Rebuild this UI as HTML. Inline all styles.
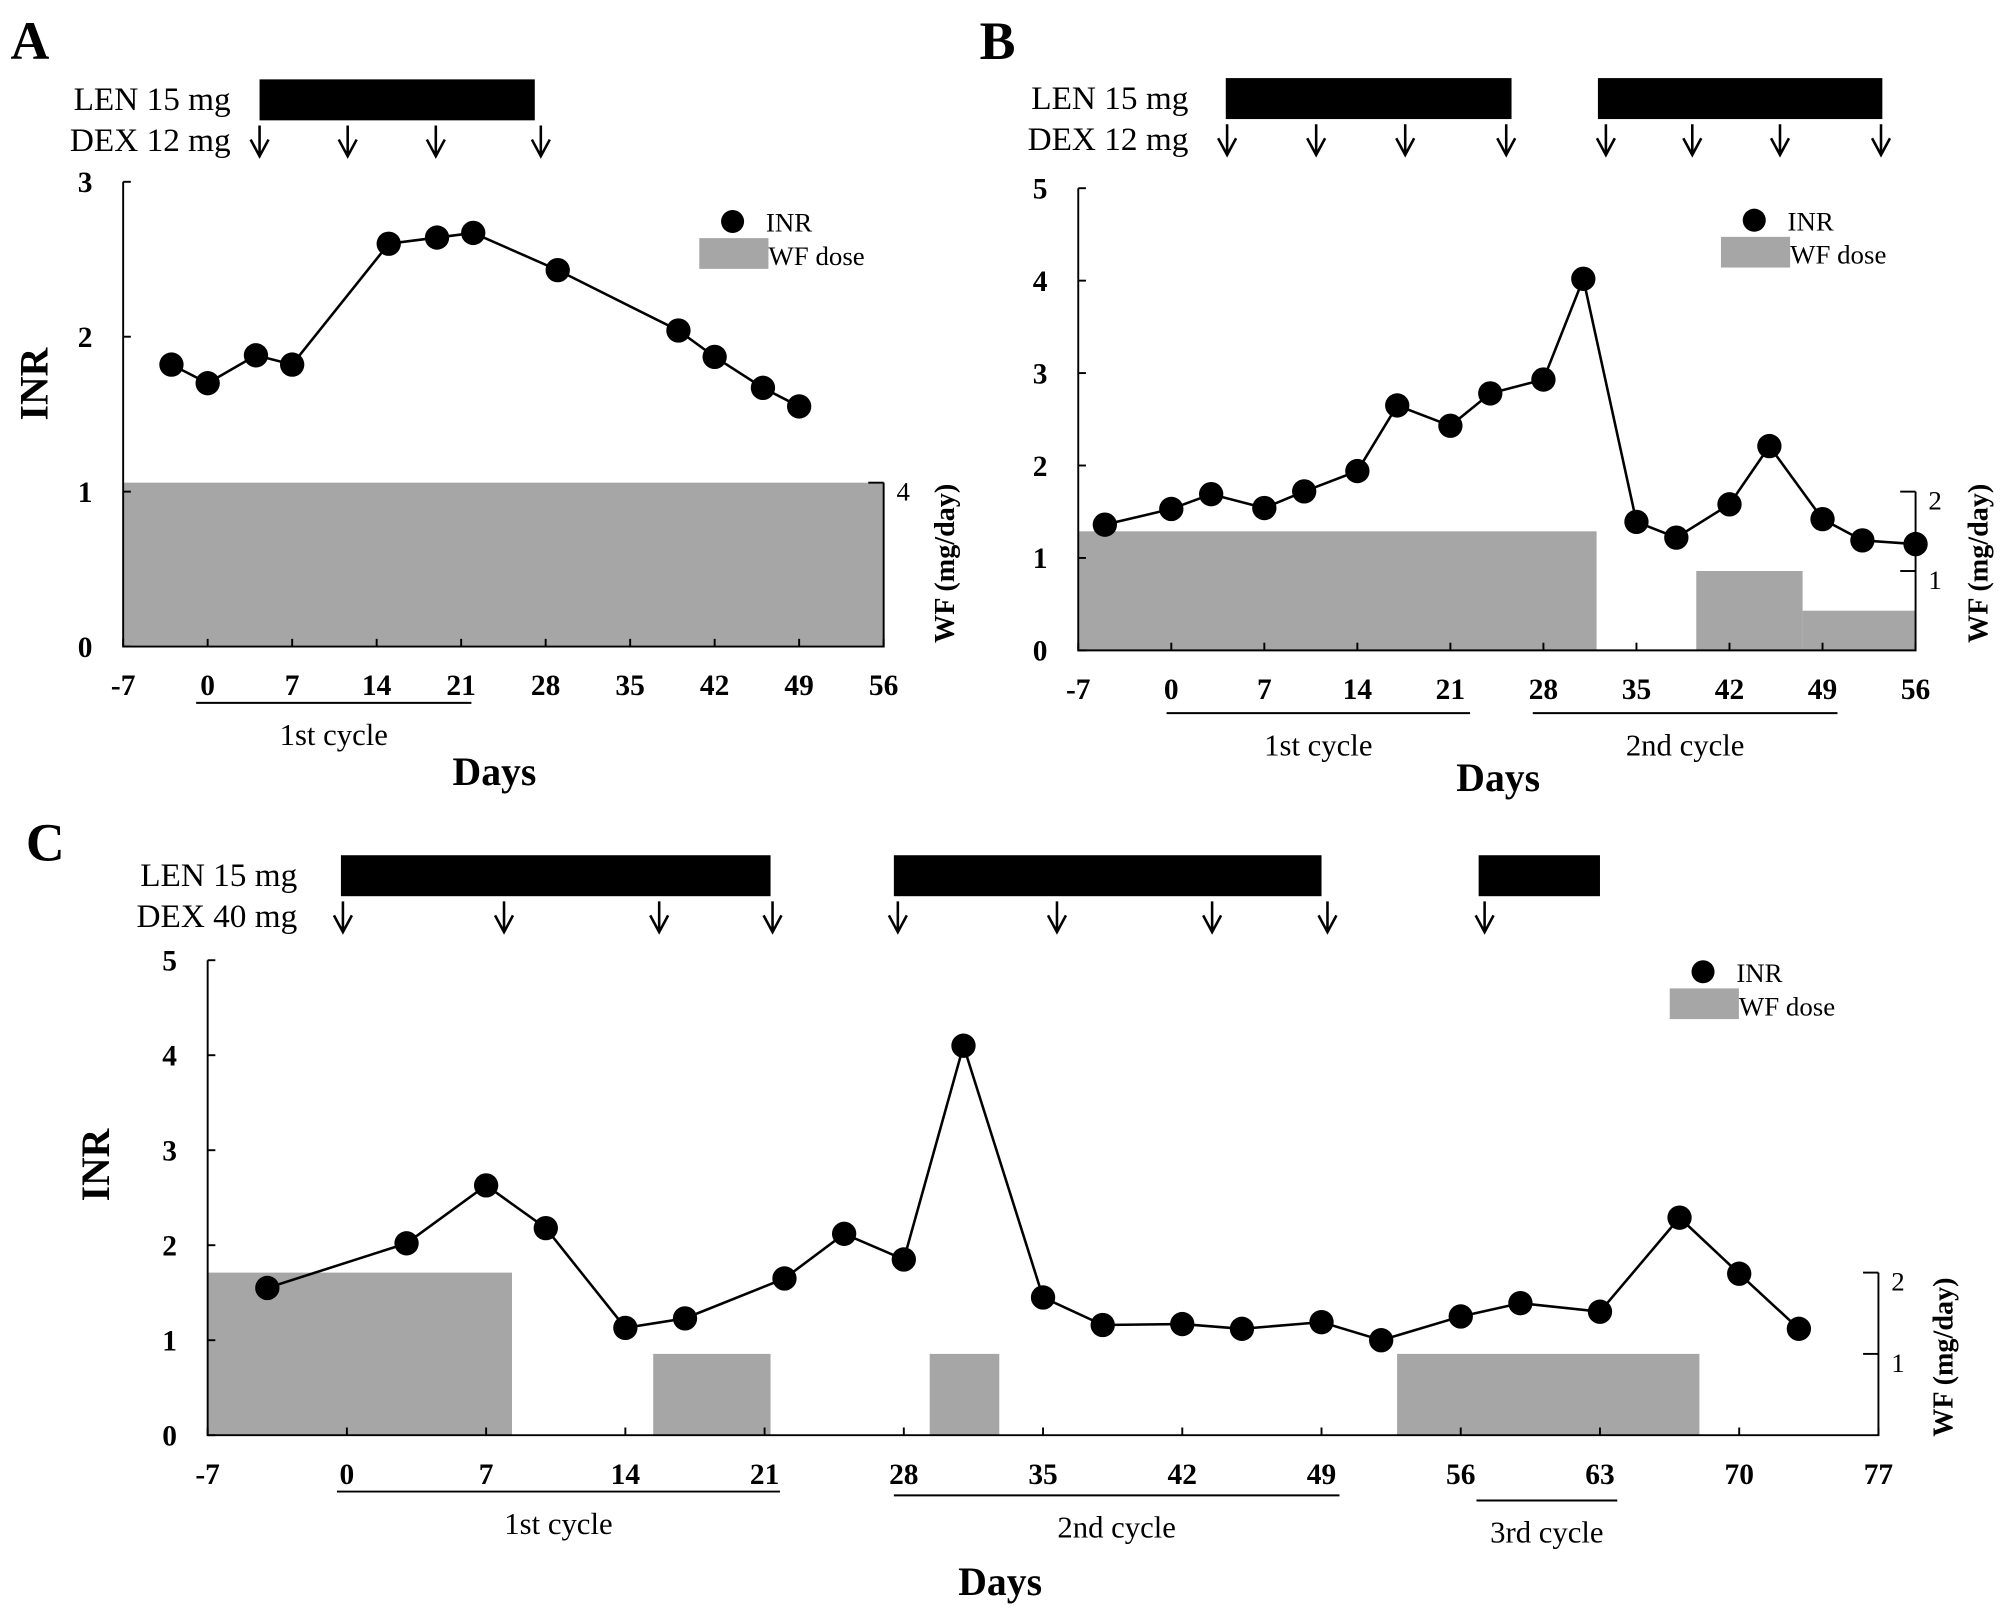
<!DOCTYPE html>
<html><head><meta charset="utf-8"><style>
html,body{margin:0;padding:0;background:#fff;}
svg{display:block;}
text{font-family:"Liberation Serif",serif;fill:#000;}
</style></head><body>
<svg id="fig" xmlns="http://www.w3.org/2000/svg" width="2008" height="1617" viewBox="0 0 1568 1263"></svg>
<script>
// ---- Panel A data ----
const aDays = [-3,0,4,7,15,19,22,29,39,42,46,49];
const aINR = [1.82,1.70,1.88,1.82,2.60,2.64,2.67,2.43,2.04,1.87,1.67,1.55];
const aWFstart = [-7];
const aWFend = [56];
const aWFdose = [4];
const aLEN = [[4.3,27.1]];
const aDEX = [4.3,11.6,18.9,27.6];
const aXTicks = [-7,0,7,14,21,28,35,42,49,56];
const aYTicks = [0,1,2,3];
const aWFTicks = [4];
// ---- Panel B data ----
const bDays = [-5,0,3,7,10,14,17,21,24,28,31,35,38,42,45,49,52,56];
const bINR = [1.36,1.53,1.69,1.54,1.72,1.94,2.65,2.43,2.78,2.93,4.02,1.39,1.22,1.58,2.21,1.42,1.19,1.15];
const bWFstart = [-7,39.5,47.5];
const bWFend = [32,47.5,56];
const bWFdose = [1.5,1,0.5];
const bLEN = [[4.1,25.6],[32.1,53.5]];
const bDEX = [4.2,10.9,17.6,25.2,32.7,39.2,45.8,53.4];
const bXTicks = [-7,0,7,14,21,28,35,42,49,56];
const bYTicks = [0,1,2,3,4,5];
const bWFTicks = [1,2];
// ---- Panel C data ----
const cDays = [-4,3,7,10,14,17,22,25,28,31,35,38,42,45,49,52,56,59,63,67,70,73];
const cINR = [1.55,2.02,2.63,2.18,1.13,1.23,1.65,2.12,1.85,4.10,1.45,1.16,1.17,1.12,1.19,1.00,1.25,1.39,1.30,2.29,1.70,1.12];
const cWFstart = [-7,15.4,29.3,52.8];
const cWFend = [8.3,21.3,32.8,68];
const cWFdose = [2,1,1,1];
const cLEN = [[-0.3,21.3],[27.5,49],[56.9,63]];
const cDEX = [-0.2,7.9,15.7,21.4,27.7,35.7,43.5,49.3,57.2];
const cXTicks = [-7,0,7,14,21,28,35,42,49,56,63,70,77];
const cYTicks = [0,1,2,3,4,5];
const cWFTicks = [1,2];

const svg = document.getElementById('fig');
const NS = 'http://www.w3.org/2000/svg';
function el(tag, attrs, parent, txt){
  const e = document.createElementNS(NS, tag);
  for (const k in attrs) e.setAttribute(k, attrs[k]);
  if (txt !== undefined) e.textContent = txt;
  (parent||svg).appendChild(e);
  return e;
}

function panel(cfg){
  const g = el('g', {});
  
  
  const X = d => cfg.x0 + (d - cfg.xmin) * (cfg.x1 - cfg.x0) / (cfg.xmax - cfg.xmin);
  const Y = v => cfg.y0 - v * (cfg.y0 - cfg.y1) / cfg.ymax;
  const W = v => cfg.y0 - v * cfg.wk;
  const L = el('text', {x: cfg.letter[0], y: cfg.letter[1], 'font-size': 42, 'font-weight': 'bold'}, g, cfg.id.toUpperCase());
  
  
  for (let i = 0; i < cfg.wfS.length; i++){
    const r = el('rect', {x: X(cfg.wfS[i]), y: W(cfg.wfD[i]), width: X(cfg.wfE[i]) - X(cfg.wfS[i]), height: cfg.y0 - W(cfg.wfD[i]), fill: '#a6a6a6'}, g);
    
    
  }
  const ax = el('path', {d: `M${cfg.x0} ${cfg.y1} V${cfg.y0} H${cfg.x1} V${W(Math.max(...cfg.wfT))}`, stroke: '#000', 'stroke-width': 1.5, fill: 'none'}, g);
  
  
  for (const t of cfg.yT){
    el('line', {x1: cfg.x0, x2: cfg.x0 + 6, y1: Y(t), y2: Y(t), stroke: '#000', 'stroke-width': 1.5}, g);
    const tl = el('text', {x: cfg.x0 - 24, y: Y(t) + 8, 'font-size': 23, 'font-weight': 'bold', 'text-anchor': 'end'}, g, t);
    
    
  }
  for (const t of cfg.xT){
    el('line', {x1: X(t), x2: X(t), y1: cfg.y0, y2: cfg.y0 - 6, stroke: '#000', 'stroke-width': 1.5}, g);
    const tl = el('text', {x: X(t), y: cfg.y0 + 38, 'font-size': 23, 'font-weight': 'bold', 'text-anchor': 'middle'}, g, t);
    
    
  }
  for (const t of cfg.wfT){
    el('line', {x1: cfg.x1, x2: cfg.x1 - 12, y1: W(t), y2: W(t), stroke: '#000', 'stroke-width': 1.5}, g);
    const tl = el('text', {x: cfg.x1 + 10, y: W(t) + 14, 'font-size': 21}, g, t);
    
    
  }
  const pts = cfg.days.map((d, i) => X(d) + ',' + Y(cfg.inr[i])).join(' ');
  const pl = el('polyline', {points: pts, fill: 'none', stroke: '#000', 'stroke-width': 2}, g);
  
  
  for (let i = 0; i < cfg.days.length; i++){
    const c = el('circle', {cx: X(cfg.days[i]), cy: Y(cfg.inr[i]), r: 9.5, fill: '#000'}, g);
    
    
  }
  for (const s of cfg.len){
    const r = el('rect', {x: X(s[0]), y: cfg.lenY, width: X(s[1]) - X(s[0]), height: 32, fill: '#000'}, g);
    
    
  }
  for (const d of cfg.dex){
    const x = X(d), y = cfg.lenY + 36;
    const a = el('path', {d: `M${x} ${y} V${y+24} M${x-7} ${y+11} L${x} ${y+24} L${x+7} ${y+11}`, stroke: '#000', 'stroke-width': 2, fill: 'none'}, g);
    
    
  }
  const t1 = el('text', {x: cfg.lblX, y: cfg.lenY + 24, 'font-size': 26, 'text-anchor': 'end'}, g, 'LEN 15 mg');
  
  
  const t2 = el('text', {x: cfg.lblX, y: cfg.lenY + 56, 'font-size': 26, 'text-anchor': 'end'}, g, cfg.dexLbl);
  
  
  const lg = el('g', {}, g);
  
  
  el('circle', {cx: cfg.leg[0] + 26, cy: cfg.leg[1], r: 9, fill: '#000'}, lg);
  el('text', {x: cfg.leg[0] + 52, y: cfg.leg[1] + 8, 'font-size': 21}, lg, 'INR');
  el('rect', {x: cfg.leg[0], y: cfg.leg[1] + 13, width: 54, height: 24, fill: '#a6a6a6'}, lg);
  el('text', {x: cfg.leg[0] + 54, y: cfg.leg[1] + 34, 'font-size': 21}, lg, 'WF dose');
  for (const c of cfg.cycles){
    el('line', {x1: c[0], x2: c[1], y1: c[2], y2: c[2], stroke: '#000', 'stroke-width': 1.5}, g);
    const ct = el('text', {x: (c[0] + c[1]) / 2, y: c[2] + 33, 'font-size': 24, 'text-anchor': 'middle'}, g, c[3]);
    
    
  }
  const dl = el('text', {x: cfg.days_lbl[0], y: cfg.days_lbl[1], 'font-size': 31, 'font-weight': 'bold', 'text-anchor': 'middle'}, g, 'Days');
  
  
  if (cfg.inrLbl){
    const il = el('text', {x: 0, y: 0, 'font-size': 31, 'font-weight': 'bold', 'text-anchor': 'middle', transform: `translate(${cfg.inrLbl[0]},${cfg.inrLbl[1]}) rotate(-90)`}, g, 'INR');
    
    
  }
  const wl = el('text', {x: 0, y: 0, 'font-size': 22, 'font-weight': 'bold', 'text-anchor': 'middle', transform: `translate(${cfg.wfLbl[0]},${cfg.wfLbl[1]}) rotate(-90)`}, g, 'WF (mg/day)');
  
  
}

panel({id:'a', x0:96, x1:690, xmin:-7, xmax:56, y0:505, y1:142, ymax:3, wk:32,
  days:aDays, inr:aINR, wfS:aWFstart, wfE:aWFend, wfD:aWFdose, len:aLEN, dex:aDEX,
  xT:aXTicks, yT:aYTicks, wfT:aWFTicks, letter:[8,46], lenY:62, lblX:180, dexLbl:'DEX 12 mg',
  leg:[546,173], cycles:[[153,368,549,'1st cycle']], days_lbl:[386,613], inrLbl:[37,300], wfLbl:[745,440]});
panel({id:'b', x0:842, x1:1496, xmin:-7, xmax:56, y0:508, y1:147, ymax:5, wk:62,
  days:bDays, inr:bINR, wfS:bWFstart, wfE:bWFend, wfD:bWFdose, len:bLEN, dex:bDEX,
  xT:bXTicks, yT:bYTicks, wfT:bWFTicks, letter:[765,46], lenY:61, lblX:928, dexLbl:'DEX 12 mg',
  leg:[1344,172], cycles:[[911,1148,557,'1st cycle'],[1197,1435,557,'2nd cycle']], days_lbl:[1170,618], inrLbl:null, wfLbl:[1552,440]});
panel({id:'c', x0:162, x1:1467, xmin:-7, xmax:77, y0:1121, y1:750, ymax:5, wk:63.5,
  days:cDays, inr:cINR, wfS:cWFstart, wfE:cWFend, wfD:cWFdose, len:cLEN, dex:cDEX,
  xT:cXTicks, yT:cYTicks, wfT:cWFTicks, letter:[20,672], lenY:668, lblX:232, dexLbl:'DEX 40 mg',
  leg:[1304,759], cycles:[[263,609,1165,'1st cycle'],[698,1046,1168,'2nd cycle'],[1153,1263,1172,'3rd cycle']], days_lbl:[781,1246], inrLbl:[85,910], wfLbl:[1525,1060]});
</script>
</body></html>
